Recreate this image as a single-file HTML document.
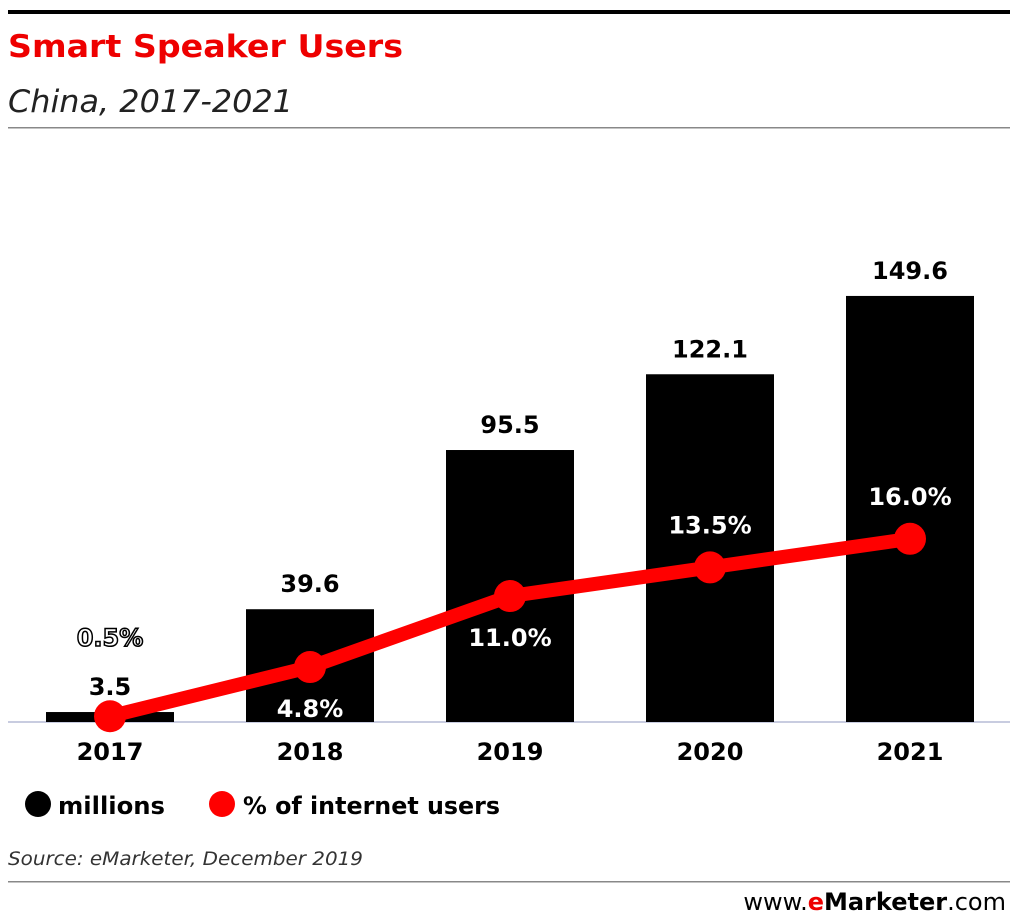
<!DOCTYPE html>
<html><head><meta charset="utf-8"><style>
body{margin:0;width:1020px;height:920px;background:#fff;font-family:"DejaVu Sans",sans-serif;overflow:hidden}
</style></head><body>
<svg width="1020" height="920" xmlns="http://www.w3.org/2000/svg" font-family="DejaVu Sans, sans-serif">
<rect x="8" y="10" width="1002" height="4" fill="#000"/>
<text x="8" y="57" font-size="31" font-weight="bold" fill="#e00" textLength="395" lengthAdjust="spacingAndGlyphs">Smart Speaker Users</text>
<text x="8" y="112" font-size="31" font-style="italic" fill="#222" textLength="285" lengthAdjust="spacingAndGlyphs">China, 2017-2021</text>
<rect x="8" y="127" width="1002" height="1.5" fill="#888"/>
<line x1="8" y1="722" x2="1010" y2="722" stroke="#c8cce0" stroke-width="2"/>
<g id="bars"></g><g id="line"></g><g id="labels"></g>
<circle cx="38" cy="804" r="13" fill="#000"/>
<text x="58" y="814" font-size="24" font-weight="bold" textLength="107" lengthAdjust="spacingAndGlyphs">millions</text>
<circle cx="222" cy="804" r="13" fill="#f00"/>
<text x="243" y="814" font-size="24" font-weight="bold" textLength="257" lengthAdjust="spacingAndGlyphs">% of internet users</text>
<text x="8" y="865" font-size="19" font-style="italic" fill="#333" textLength="355" lengthAdjust="spacingAndGlyphs">Source: eMarketer, December 2019</text>
<rect x="8" y="881" width="1002" height="1.5" fill="#888"/>
<text x="1006" y="910" font-size="24" text-anchor="end" fill="#000">www.<tspan font-weight="bold" fill="#e00">e</tspan><tspan font-weight="bold">Marketer</tspan>.com</text>
</svg>
<script>
const years=["2017","2018","2019","2020","2021"];
const millions=[3.5,39.6,95.5,122.1,149.6];
const pct=[0.5,4.8,11.0,13.5,16.0];
const pctLabels=["0.5%","4.8%","11.0%","13.5%","16.0%"];
const pctAbove=[true,false,false,true,true];
const NS="http://www.w3.org/2000/svg";
const base=722;
const xC=i=>110+i*200;
const yM=v=>base-v*2.848;
const yP=v=>base-v*11.45;
function mk(tag,attrs,parent,txt){const e=document.createElementNS(NS,tag);for(const k in attrs)e.setAttribute(k,attrs[k]);if(txt!=null)e.textContent=txt;parent.appendChild(e);return e;}
const gb=document.getElementById('bars'),gl=document.getElementById('line'),gt=document.getElementById('labels');
years.forEach((y,i)=>{
 const r=mk('rect',{x:xC(i)-64,y:yM(millions[i]),width:128,height:base-yM(millions[i]),fill:'#000'},gb);
 
 
 const v=mk('text',{x:xC(i),y:yM(millions[i])-17,'font-size':24,'font-weight':'bold','text-anchor':'middle'},gt,millions[i].toFixed(1));
 
 
 const t=mk('text',{x:xC(i),y:760,'font-size':24,'font-weight':'bold','text-anchor':'middle'},gt,y);
 
 
});
const pts=pct.map((p,i)=>xC(i)+','+yP(p)).join(' ');
const pl=mk('polyline',{points:pts,fill:'none',stroke:'#f00','stroke-width':14,'stroke-linejoin':'round'},gl);


pct.forEach((p,i)=>{
 const c=mk('circle',{cx:xC(i),cy:yP(p),r:16,fill:'#f00'},gl);
 
 
 let ly, attrs={x:xC(i),'font-size':24,'font-weight':'bold','text-anchor':'middle',fill:'#fff'};
 if(i===0){ly=646;attrs.stroke='#000';attrs['stroke-width']=1.5;}
 else ly=pctAbove[i]?yP(p)-34:yP(p)+50;
 attrs.y=ly;
 const l=mk('text',attrs,gt,pctLabels[i]);
 
 
});
</script>
</body></html>
